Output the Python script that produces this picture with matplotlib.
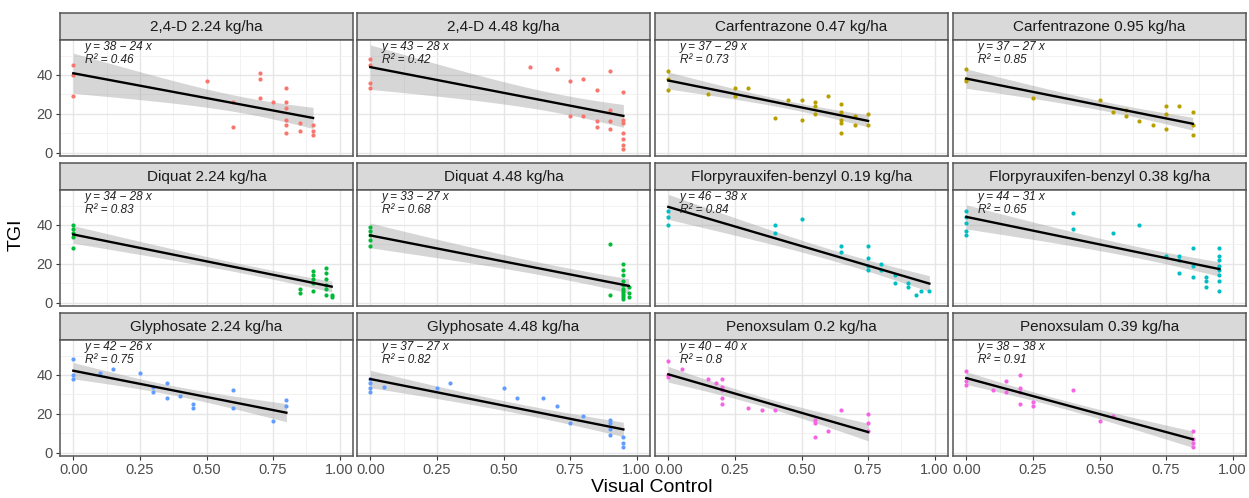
import matplotlib
matplotlib.use('Agg')

import matplotlib.pyplot as plt
import numpy as np

plt.rcParams['font.family'] = ['Liberation Sans', 'DejaVu Sans']

# --- panel titles and fitted-equation labels ---
titles = ['2,4-D 2.24 kg/ha', '2,4-D 4.48 kg/ha', 'Carfentrazone 0.47 kg/ha', 'Carfentrazone 0.95 kg/ha',
          'Diquat 2.24 kg/ha', 'Diquat 4.48 kg/ha', 'Florpyrauxifen-benzyl 0.19 kg/ha', 'Florpyrauxifen-benzyl 0.38 kg/ha',
          'Glyphosate 2.24 kg/ha', 'Glyphosate 4.48 kg/ha', 'Penoxsulam 0.2 kg/ha', 'Penoxsulam 0.39 kg/ha']
eq_int   = [38, 43, 37, 37, 34, 33, 46, 44, 42, 37, 40, 38]
eq_slope = [24, 28, 29, 27, 28, 27, 38, 31, 26, 27, 40, 38]
eq_r2    = ['0.46', '0.42', '0.73', '0.85', '0.83', '0.68', '0.84', '0.65', '0.75', '0.82', '0.8', '0.91']

# --- observations: visual control (fraction) vs TGI ---
vc_d224 = [0, 0, 0, 0.5, 0.6, 0.6, 0.7, 0.7, 0.7, 0.75, 0.8, 0.8, 0.8, 0.8, 0.8, 0.8, 0.85, 0.85, 0.9, 0.9, 0.9]
tg_d224 = [45, 40, 29, 37, 26, 13, 41, 38, 28, 26, 33, 26, 23, 17, 14, 10, 15, 11, 14, 11, 9]

vc_d448 = [0, 0, 0, 0, 0.6, 0.7, 0.75, 0.8, 0.85, 0.9, 0.95, 0.75, 0.8, 0.85, 0.85, 0.9, 0.9, 0.9,
           0.95, 0.95, 0.95, 0.95, 0.95, 0.95]
tg_d448 = [48, 45, 36, 33, 44, 43, 37, 38, 32, 42, 31, 19, 19, 16, 13, 22, 16, 12, 17, 15, 10, 7, 4, 2]

vc_c047 = [0, 0, 0, 0.15, 0.25, 0.25, 0.3, 0.4, 0.45, 0.5, 0.5, 0.55, 0.55, 0.55, 0.6,
           0.65, 0.65, 0.65, 0.65, 0.65, 0.7, 0.7, 0.75, 0.75]
tg_c047 = [42, 38, 32, 30, 33, 29, 33, 18, 27, 27, 17, 26, 24, 20, 29, 25, 21, 17, 15, 10, 19, 14, 20, 14]

vc_c095 = [0, 0, 0, 0.25, 0.5, 0.55, 0.6, 0.6, 0.65, 0.7, 0.75, 0.75, 0.75, 0.8, 0.85, 0.85, 0.85]
tg_c095 = [43, 38, 37, 28, 27, 21, 22, 19, 16, 14, 24, 20, 12, 24, 21, 14, 9]

vc_q224 = [0, 0, 0, 0, 0, 0.85, 0.85, 0.9, 0.9, 0.9, 0.9, 0.9, 0.95, 0.95, 0.95, 0.95, 0.95, 0.95, 0.97, 0.97]
tg_q224 = [40, 38, 36, 34, 28, 7, 5, 16, 14, 12, 10, 6, 18, 15, 12, 9, 7, 4, 4, 3]

vc_q448 = [0, 0, 0, 0, 0, 0.9, 0.9, 0.95, 0.95, 0.95, 0.95, 0.95, 0.95, 0.95, 0.95, 0.95, 0.95, 0.95,
           0.97, 0.97, 0.97]
tg_q448 = [39, 37, 35, 32, 29, 30, 4, 20, 17, 14, 11, 9, 7, 6, 5, 4, 3, 2, 8, 5, 3]

vc_f019 = [0, 0, 0, 0.4, 0.4, 0.5, 0.65, 0.65, 0.75, 0.75, 0.75, 0.75, 0.8, 0.8, 0.85, 0.85,
           0.9, 0.9, 0.93, 0.95, 0.98]
tg_f019 = [47, 44, 40, 40, 36, 43, 29, 26, 29, 23, 19, 17, 20, 17, 14, 10, 10, 8, 4, 6, 6]

vc_f038 = [0, 0, 0, 0, 0, 0.4, 0.4, 0.55, 0.65, 0.75, 0.8, 0.8, 0.8, 0.85, 0.85, 0.85, 0.9, 0.9, 0.9,
           0.95, 0.95, 0.95, 0.95, 0.95, 0.95, 0.95, 0.95]
tg_f038 = [47, 44, 41, 37, 35, 46, 38, 36, 40, 24, 24, 22, 15, 28, 19, 13, 13, 11, 8,
           28, 24, 22, 19, 17, 14, 11, 6]

vc_g224 = [0, 0, 0, 0.1, 0.15, 0.25, 0.3, 0.3, 0.35, 0.35, 0.4, 0.45, 0.45, 0.6, 0.6, 0.75, 0.8, 0.8]
tg_g224 = [48, 40, 38, 41, 43, 41, 34, 31, 36, 28, 29, 25, 23, 32, 23, 16, 27, 24]

vc_g448 = [0, 0, 0, 0, 0.05, 0.25, 0.3, 0.5, 0.55, 0.65, 0.7, 0.75, 0.8, 0.9, 0.9, 0.9, 0.9, 0.95, 0.95, 0.95]
tg_g448 = [38, 36, 33, 31, 34, 33, 36, 33, 28, 28, 24, 15, 19, 17, 15, 12, 9, 8, 5, 3]

vc_p020 = [0, 0, 0, 0.05, 0.15, 0.18, 0.2, 0.2, 0.2, 0.2, 0.2, 0.3, 0.35, 0.4, 0.55, 0.55, 0.55,
           0.6, 0.65, 0.75, 0.75, 0.75]
tg_p020 = [47, 40, 39, 43, 38, 36, 38, 34, 32, 28, 25, 23, 22, 22, 17, 15, 8, 11, 22, 20, 15, 11]

vc_p039 = [0, 0, 0, 0.1, 0.15, 0.15, 0.2, 0.2, 0.2, 0.2, 0.25, 0.25, 0.4, 0.5, 0.55, 0.85, 0.85, 0.85, 0.85]
tg_p039 = [42, 37, 35, 32, 37, 31, 40, 33, 31, 25, 26, 24, 32, 16, 19, 11, 7, 5, 3]

vc_all = [vc_d224, vc_d448, vc_c047, vc_c095, vc_q224, vc_q448, vc_f019, vc_f038, vc_g224, vc_g448, vc_p020, vc_p039]
tg_all = [tg_d224, tg_d448, tg_c047, tg_c095, tg_q224, tg_q448, tg_f019, tg_f038, tg_g224, tg_g448, tg_p020, tg_p039]

# ggplot hue palette, one colour per herbicide
herb_cols = ['#F8766D', '#B79F00', '#00BA38', '#00BFC4', '#619CFF', '#F564E3']

# --- layout in pixels ---
W, H = 1249, 498
fig = plt.figure(figsize=(W / 100, H / 100), dpi=100)
col_left = [60, 357, 655, 953]
panel_w = 293
strip_top = [13, 163, 313]
strip_h = 27
panel_h = 116


def px_axes(left, top, width, height):
    return fig.add_axes([left / W, 1 - (top + height) / H, width / W, height / H])


def t975(df):
    z = 1.959964
    return z + (z**3 + z) / (4 * df) + (5 * z**5 + 16 * z**3 + 3 * z) / (96 * df**2)


for i in range(12):
    row, col = i // 4, i % 4
    left = col_left[col]
    ts = strip_top[row]

    # strip
    sax = px_axes(left, ts, panel_w, strip_h)
    sax.set_facecolor('#D9D9D9')
    sax.set_xticks([]); sax.set_yticks([])
    for sp in sax.spines.values():
        sp.set_color('#555555'); sp.set_linewidth(1.1)
    sax.text(0.5, 0.5, titles[i], ha='center', va='center', fontsize=11, color='#1A1A1A',
             transform=sax.transAxes)

    # panel
    ax = px_axes(left, ts + strip_h, panel_w, panel_h)
    ax.set_xlim(-0.05, 1.05)
    ax.set_ylim(-1.8, 58)
    ax.set_xticks([0, 0.25, 0.5, 0.75, 1.0])
    ax.set_xticks([0.125, 0.375, 0.625, 0.875], minor=True)
    ax.set_yticks([0, 20, 40])
    ax.set_yticks([10, 30, 50], minor=True)
    ax.grid(which='major', color='#E6E6E6', linewidth=1.0)
    ax.grid(which='minor', color='#F0F0F0', linewidth=0.6)
    ax.set_axisbelow(True)
    for sp in ax.spines.values():
        sp.set_color('#555555'); sp.set_linewidth(1.1)
    ax.tick_params(which='major', length=3, width=0.8, color='#333333', labelsize=10.5, labelcolor='#4D4D4D', pad=2)
    ax.tick_params(which='minor', length=0)
    if row == 2:
        ax.set_xticklabels(['0.00', '0.25', '0.50', '0.75', '1.00'])
    else:
        ax.tick_params(axis='x', labelbottom=False, length=0)
    if col != 0:
        ax.tick_params(axis='y', labelleft=False, length=0)

    x = np.array(vc_all[i], dtype=float)
    y = np.array(tg_all[i], dtype=float)
    colr = herb_cols[i // 2]

    # linear fit with 95% confidence band
    n = len(x)
    slope, icpt = np.polyfit(x, y, 1)
    xs = np.linspace(x.min(), x.max(), 80)
    ys = icpt + slope * xs
    resid = y - (icpt + slope * x)
    s = np.sqrt(np.sum(resid**2) / (n - 2))
    sxx = np.sum((x - x.mean())**2)
    se = s * np.sqrt(1.0 / n + (xs - x.mean())**2 / sxx)
    band = t975(n - 2) * se
    ax.fill_between(xs, ys - band, ys + band, color='#999999', alpha=0.4, linewidth=0, zorder=2)
    ax.scatter(x, y, s=9, color=colr, linewidths=0, zorder=3)
    ax.plot(xs, ys, color='black', linewidth=1.7, zorder=4)

    ax.text(0.085, 0.995, 'y = %d \u2212 %d x' % (eq_int[i], eq_slope[i]), transform=ax.transAxes,
            ha='left', va='top', fontsize=8.5, style='italic', color='#222222', zorder=5)
    ax.text(0.085, 0.88, 'R\u00b2 = ' + eq_r2[i], transform=ax.transAxes,
            ha='left', va='top', fontsize=8.5, style='italic', color='#222222', zorder=5)

fig.text(16 / W, 1 - 235 / H, 'TGI', rotation=90, ha='center', va='center', fontsize=14)
fig.text(652 / W, 1 - 487 / H, 'Visual Control', ha='center', va='center', fontsize=14)

plt.savefig('out.png', dpi=100)
